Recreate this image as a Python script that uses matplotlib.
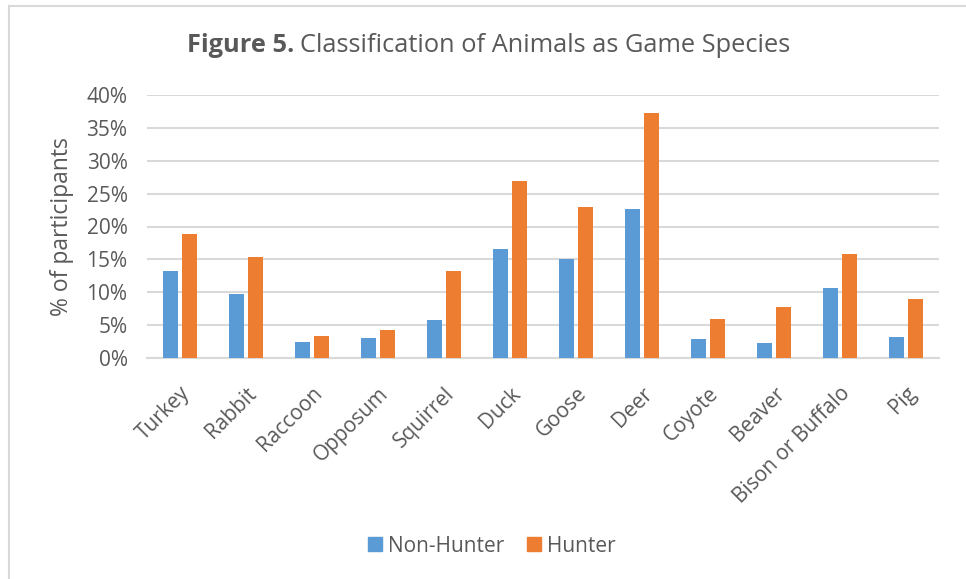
import matplotlib
matplotlib.use("Agg")
import matplotlib.pyplot as plt
import numpy as np
from matplotlib.patches import Rectangle
from matplotlib.lines import Line2D

categories = ["Turkey", "Rabbit", "Raccoon", "Opposum", "Squirrel", "Duck",
              "Goose", "Deer", "Coyote", "Beaver", "Bison or Buffalo", "Pig"]
non_hunter = [13.3, 9.7, 2.5, 3.1, 5.8, 16.6, 15.0, 22.7, 2.9, 2.3, 10.6, 3.25]
hunter = [18.8, 15.4, 3.35, 4.25, 13.2, 26.9, 23.0, 37.2, 5.9, 7.7, 15.8, 9.0]
yticks = [0, 5, 10, 15, 20, 25, 30, 35, 40]

BLUE = "#5B9BD5"
ORANGE = "#ED7D31"
TXT = "#595959"
GRID = "#D9D9D9"

plt.rcParams['font.family'] = ['Open Sans', 'DejaVu Sans']

fig = plt.figure(figsize=(9.66, 5.79), dpi=100)
W, H = 966, 579
ax = fig.add_axes([147 / W, 1 - 358 / H, (939 - 147) / W, (358 - 95) / H])

x = np.arange(len(categories))
bw = 0.227
off = 0.144
ax.bar(x - off, non_hunter, bw, color=BLUE, label="Non-Hunter", zorder=3)
ax.bar(x + off, hunter, bw, color=ORANGE, label="Hunter", zorder=3)

ax.set_xlim(-0.5, len(categories) - 0.5)
ax.set_ylim(0, 40)
ax.set_yticks(yticks)
ax.set_yticklabels([f"{v}%" for v in yticks], color=TXT, fontsize=15)
ax.yaxis.grid(True, color=GRID, linewidth=1.5, zorder=0)
ax.set_axisbelow(True)
ax.tick_params(axis='y', length=0, pad=14)
ax.tick_params(axis='x', length=0, pad=18)
ax.set_xticks(x)
ax.set_xticklabels(categories, rotation=45, ha='right', rotation_mode='anchor',
                   color=TXT, fontsize=15)
for s in ["top", "right", "left"]:
    ax.spines[s].set_visible(False)
ax.spines["bottom"].set_color(GRID)
ax.spines["bottom"].set_linewidth(1.5)

ax.set_ylabel("% of participants", color=TXT, fontsize=16.5)
ax.yaxis.set_label_coords(-0.092, 0.5)

# Title with bold lead
fig.canvas.draw()
r = fig.canvas.get_renderer()
t1 = fig.text(187 / W, 1 - 46 / H, "Figure 5.", fontsize=18.3, fontweight='bold',
              color=TXT, ha='left', va='center')
bb = t1.get_window_extent(r)
fig.text((bb.x1 + 6) / W, 1 - 46 / H, "Classification of Animals as Game Species",
         fontsize=18.3, color=TXT, ha='left', va='center')

# Legend
handles = [Rectangle((0, 0), 1, 1, color=BLUE), Rectangle((0, 0), 1, 1, color=ORANGE)]
leg = fig.legend(handles, ["Non-Hunter", "Hunter"], loc='center',
                 bbox_to_anchor=(492 / W, 1 - 546 / H), ncol=2, frameon=False,
                 fontsize=15, handlelength=0.67, handleheight=0.67,
                 handletextpad=0.3, columnspacing=1.1)
for t in leg.get_texts():
    t.set_color(TXT)

# Border
fig.add_artist(Line2D([8.5 / W, 8.5 / W], [0, 1 - 5.5 / H], transform=fig.transFigure,
                      color=GRID, linewidth=1.5))
fig.add_artist(Line2D([8.5 / W, 1], [1 - 5.5 / H, 1 - 5.5 / H], transform=fig.transFigure,
                      color=GRID, linewidth=1.5))

fig.savefig("out.png", dpi=100)
